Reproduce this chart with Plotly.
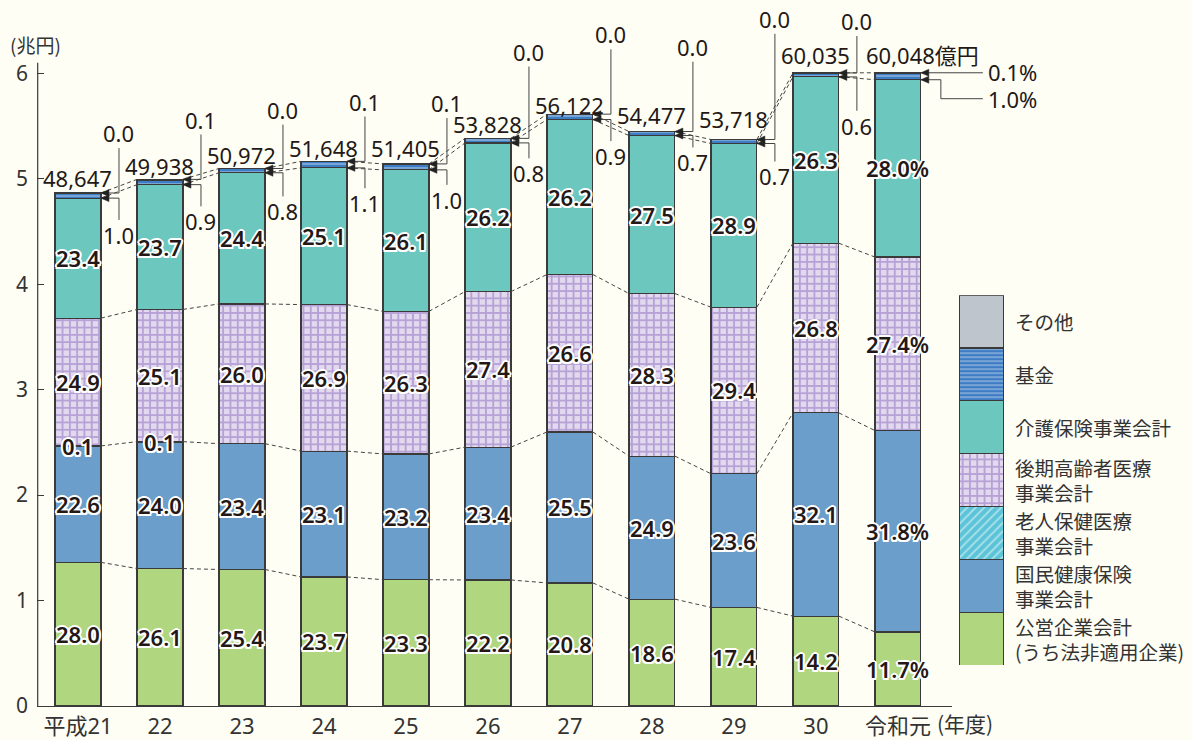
import plotly.graph_objects as go

# ---------------- data ----------------
categories = ["平成21", "22", "23", "24", "25", "26", "27", "28", "29", "30", "令和元"]
totals_oku = [48647, 49938, 50972, 51648, 51405, 53828, 56122, 54477, 53718, 60035, 60048]  # 億円

# composition ratios (%) bottom -> top
koei   = [28.0, 26.1, 25.4, 23.7, 23.3, 22.2, 20.8, 18.6, 17.4, 14.2, 11.7]   # 公営企業会計
kokuho = [22.6, 24.0, 23.4, 23.1, 23.2, 23.4, 25.5, 24.9, 23.6, 32.1, 31.8]   # 国民健康保険事業会計
rojin  = [0.1, 0.1, 0, 0, 0, 0, 0, 0, 0, 0, 0]                                 # 老人保健医療事業会計
kouki  = [24.9, 25.1, 26.0, 26.9, 26.3, 27.4, 26.6, 28.3, 29.4, 26.8, 27.4]   # 後期高齢者医療事業会計
kaigo  = [23.4, 23.7, 24.4, 25.1, 26.1, 26.2, 26.2, 27.5, 28.9, 26.3, 28.0]   # 介護保険事業会計
kikin  = [1.0, 0.9, 0.8, 1.1, 1.0, 0.8, 0.9, 0.7, 0.7, 0.6, 1.0]              # 基金
sonota = [0.0, 0.1, 0.0, 0.1, 0.1, 0.0, 0.0, 0.0, 0.0, 0.0, 0.1]              # その他

legend_labels = ["公営企業会計<br>(うち法非適用企業)", "国民健康保険<br>事業会計", "老人保健医療<br>事業会計",
                 "後期高齢者医療<br>事業会計", "介護保険事業会計", "基金", "その他"]
yticks = [0, 1, 2, 3, 4, 5, 6]

# ---------------- layout constants ----------------
W, H = 1192, 740
ML, MR, MT, MB = 37, 0, 10, 32
PW, PH = W - ML - MR, H - MT - MB
YMAX = 6.6
XR = [-0.5, 10.66]
XD = 915 / PW
PPY = PH / YMAX
PPX = 915 / (XR[1] - XR[0])
BW = 0.56

FONT = "Noto Sans, Noto Sans CJK JP"
CJK = "Noto Sans CJK JP"
TXT = "#231815"
LINE = "#3a3a3a"
OUT = ",".join(f"{dx}px {dy}px 0 #ffffff" for dx, dy in
               [(-2, 0), (2, 0), (0, -2), (0, 2), (-1.5, -1.5), (1.5, -1.5), (-1.5, 1.5), (1.5, 1.5)])

series = [koei, kokuho, rojin, kouki, kaigo, kikin, sonota]
styles = [
    dict(color="#B0D67F"),
    dict(color="#6B9ECB"),
    dict(color="#5CC4D8", pattern=dict(shape="/", fgcolor="#ffffff", bgcolor="#5CC4D8", size=6, solidity=0.3)),
    dict(color="#E2D9EE", pattern=dict(shape="+", fgcolor="#8A6CBE", bgcolor="#E2D9EE", size=7.3, solidity=0.45)),
    dict(color="#6CC8BE"),
    dict(color="#3E7DC4", pattern=dict(shape="-", fgcolor="#ffffff", bgcolor="#3E7DC4", size=4, solidity=0.3)),
    dict(color="#BFC5CC"),
]

x = list(range(len(categories)))
tot = [t / 10000 for t in totals_oku]  # 兆円

fig = go.Figure()
for s, st in zip(series, styles):
    vals = [tot[i] * s[i] / 100 for i in x]
    fig.add_trace(go.Bar(x=x, y=vals, width=BW, marker=dict(**st, line=dict(color=LINE, width=1.2)),
                         showlegend=False, hoverinfo="skip"))
    # legend swatch stack
    fig.add_trace(go.Bar(x=[0], y=[1], width=1, xaxis="x2", yaxis="y2",
                         marker=dict(**st, line=dict(color=LINE, width=1.2)),
                         showlegend=False, hoverinfo="skip"))

# cumulative levels
cum = []
acc = [0.0] * len(x)
for s in series:
    acc = [acc[i] + tot[i] * s[i] / 100 for i in x]
    cum.append(acc[:])
lvl_koei, lvl_kokuho, lvl_rojin, lvl_kouki, lvl_kaigo, lvl_kikin, lvl_top = cum

shapes = []
annotations = []

# y axis line
shapes.append(dict(type="line", xref="paper", yref="y", x0=0.0006, x1=0.0006, y0=0, y1=6.1,
                   line=dict(color=LINE, width=1.2)))

# dashed connectors between bars
for lv in [lvl_koei, lvl_rojin, lvl_kouki, lvl_kaigo, tot]:
    for i in range(len(x) - 1):
        shapes.append(dict(type="line", xref="x", yref="y", x0=i + BW / 2, y0=lv[i],
                           x1=i + 1 - BW / 2, y1=lv[i + 1],
                           line=dict(color="#444", width=1, dash="4px,3px")))

# in-bar labels
def seg_label(i, lo, hi, val, pct=False):
    annotations.append(dict(x=i, y=(lo + hi) / 2, xref="x", yref="y", showarrow=False,
                            text=f"{val:.1f}" + ("%" if pct else ""),
                            font=dict(family=FONT, size=22, color=TXT, weight=600, shadow=OUT)))

for i in x:
    last = i == len(x) - 1
    seg_label(i, 0, lvl_koei[i], koei[i], last)
    seg_label(i, lvl_koei[i], lvl_kokuho[i], kokuho[i], last)
    if rojin[i] > 0:
        seg_label(i, lvl_kokuho[i], lvl_rojin[i], rojin[i], last)
    seg_label(i, lvl_rojin[i], lvl_kouki[i], kouki[i], last)
    seg_label(i, lvl_kouki[i], lvl_kaigo[i], kaigo[i], last)

# callouts (label offsets in px)
top_dy = [60, 60, 59, 60, 61, 87, 80, 85, 121, 52]
bot_dy = [42, 42, 43, 42, 36, 35, 42, 31, 37, 53]
tot_dy = [15, 13.5, 14, 13.5, 16, 14, 9.5, 17, 21, 18, 18]
aw, ah = 8 / PPX, 3.5 / PPY
cfont = dict(family=FONT, size=22, color=TXT)

def arrow(xe, y):
    shapes.append(dict(type="path", xref="x", yref="y",
                       path=f"M {xe},{y} L {xe + aw},{y + ah} L {xe + aw},{y - ah} Z",
                       fillcolor="#222", line=dict(color="#222", width=0.5)))

def xp(v):
    return (v - XR[0]) / (XR[1] - XR[0]) * XD

for i in x:
    top = tot[i]
    yb = min(lvl_kaigo[i], top - 4 / PPY)
    edge = i + BW / 2
    if i < len(x) - 1:
        ly = top + top_dy[i] / PPY
        by = top - bot_dy[i] / PPY
        annotations.append(dict(x=i + 0.5, y=ly, xref="x", yref="y", showarrow=False,
                                text=f"{sonota[i]:.1f}", font=cfont))
        annotations.append(dict(x=i + 0.5, y=by, xref="x", yref="y", showarrow=False,
                                text=f"{kikin[i]:.1f}", font=cfont))
        shapes.append(dict(type="path", xref="x", yref="y",
                           path=f"M {i + 0.5},{ly - 15 / PPY} L {i + 0.5},{top} L {edge},{top}",
                           line=dict(color="#444", width=1)))
        shapes.append(dict(type="path", xref="x", yref="y",
                           path=f"M {i + 0.5},{by + 15 / PPY} L {i + 0.5},{yb} L {edge},{yb}",
                           line=dict(color="#444", width=1)))
        arrow(edge, top)
        arrow(edge, yb)
        annotations.append(dict(x=i, y=top + tot_dy[i] / PPY, xref="x", yref="y", showarrow=False,
                                text=f"{totals_oku[i]:,}", font=cfont))
    else:
        ex = xp(edge)
        lab_x = ex + 62 / PW
        ly2 = top - 26 / PPY
        shapes.append(dict(type="path", xref="paper", yref="y",
                           path=f"M {ex},{top} L {lab_x},{top}", line=dict(color="#444", width=1)))
        shapes.append(dict(type="path", xref="paper", yref="y",
                           path=f"M {ex},{yb} L {ex + 20 / PW},{yb} L {ex + 20 / PW},{ly2} L {lab_x},{ly2}",
                           line=dict(color="#444", width=1)))
        arrow(edge, top)
        arrow(edge, yb)
        annotations.append(dict(x=lab_x + 3 / PW, y=top + 1 / PPY, xref="paper", yref="y", showarrow=False,
                                xanchor="left", text=f"{sonota[i]:.1f}%", font=cfont))
        annotations.append(dict(x=lab_x + 3 / PW, y=ly2, xref="paper", yref="y", showarrow=False,
                                xanchor="left", text=f"{kikin[i]:.1f}%", font=cfont))
        annotations.append(dict(x=i - BW / 2 - 11 / PPX, y=top + tot_dy[i] / PPY, xref="x", yref="y",
                                showarrow=False, xanchor="left",
                                text=f"{totals_oku[i]:,}億円", font=cfont))

# legend labels
for k, lab in enumerate(legend_labels):
    annotations.append(dict(x=(1013 - ML) / PW, y=k + 0.5, xref="paper", yref="y2", showarrow=False,
                            xanchor="left", yanchor="middle", align="left", text=lab,
                            font=dict(family=CJK, size=19.5, color="#333")))

# unit labels
annotations.append(dict(x=(35 - ML) / PW, y=(H - MB - 45) / PH, xref="paper", yref="paper", showarrow=False,
                        xanchor="center", yanchor="middle",
                        text="(兆円)", font=dict(family=CJK, size=19, color="#333")))
annotations.append(dict(x=(935 - ML) / PW, y=-17 / PH, xref="paper", yref="paper", showarrow=False,
                        xanchor="left", yanchor="middle", text="(年度)", font=dict(family=CJK, size=21, color="#333")))

fig.update_layout(
    width=W, height=H, barmode="stack",
    margin=dict(l=ML, r=MR, t=MT, b=MB),
    paper_bgcolor="#FEFEF5", plot_bgcolor="#FEFEF5",
    font=dict(family=FONT, color="#333"),
    xaxis=dict(domain=[0, XD], range=XR, tickvals=x, ticktext=categories, showgrid=False, zeroline=False,
               showline=True, linecolor=LINE, linewidth=1.2, ticks="", tickfont=dict(size=22, color="#333")),
    yaxis=dict(range=[0, YMAX], tickvals=yticks, showgrid=False, zeroline=False, showline=False,
               ticks="inside", ticklen=7, tickcolor=LINE, tickwidth=1.2, ticklabelstandoff=8,
               tickfont=dict(size=21, color="#333")),
    xaxis2=dict(domain=[(959 - ML) / PW, (1004 - ML) / PW], range=[-0.5, 0.5], visible=False, anchor="y2"),
    yaxis2=dict(domain=[(H - MB - 667) / PH, (H - MB - 296) / PH], range=[0, 7], visible=False, anchor="x2"),
    shapes=shapes, annotations=annotations,
)

fig.write_html("out.html", config={"displayModeBar": False},
               post_script="document.body.style.margin='0';document.body.style.overflow='hidden';")
